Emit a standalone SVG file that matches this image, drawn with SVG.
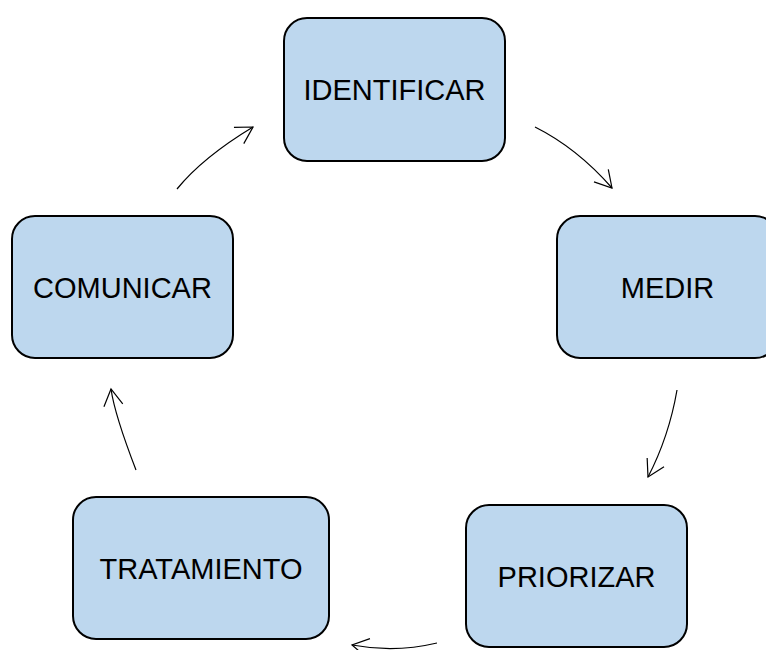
<svg xmlns="http://www.w3.org/2000/svg" width="766" height="650" viewBox="0 0 766 650">
<style>
.box{fill:#bdd7ee;stroke:#000;stroke-width:2}
.lbl{font-family:"Liberation Sans",Arial,sans-serif;font-size:29px;fill:#000;text-anchor:middle}
.conn{fill:none;stroke:#000;stroke-width:1.2;marker-end:url(#arr)}
</style>
<defs>
<marker id="arr" markerUnits="userSpaceOnUse" orient="auto" refX="0" refY="0" markerWidth="20" markerHeight="20" overflow="visible">
<path d="M-16.5,-9.5 L0,0 L-16.5,9.5" fill="none" stroke="#000" stroke-width="1.2"/>
</marker>
</defs>
<g id="connectors">
<path class="conn" d="M177,189 Q202.8,157.3 253,127"/>
<path class="conn" d="M535,127 Q577,148 612,188"/>
<path class="conn" d="M677,390 Q669,436.5 648,477"/>
<path class="conn" d="M437,643 Q395,653 352,645"/>
<path class="conn" d="M136,470 Q114.7,414.8 111,389"/>
</g>
<g id="identificar">
<rect class="box" x="284" y="18" width="221" height="143" rx="23"/>
<text class="lbl" x="394.5" y="100">IDENTIFICAR</text>
</g>
<g id="medir">
<rect class="box" x="557" y="216" width="221" height="142" rx="23"/>
<text class="lbl" x="667.5" y="297.5">MEDIR</text>
</g>
<g id="priorizar">
<rect class="box" x="466" y="505" width="221" height="142" rx="23"/>
<text class="lbl" x="576.5" y="587">PRIORIZAR</text>
</g>
<g id="tratamiento">
<rect class="box" x="73" y="497" width="256" height="142" rx="23"/>
<text class="lbl" x="201" y="578.5">TRATAMIENTO</text>
</g>
<g id="comunicar">
<rect class="box" x="12" y="216" width="221" height="142" rx="23"/>
<text class="lbl" x="122.5" y="297.5">COMUNICAR</text>
</g>
</svg>
